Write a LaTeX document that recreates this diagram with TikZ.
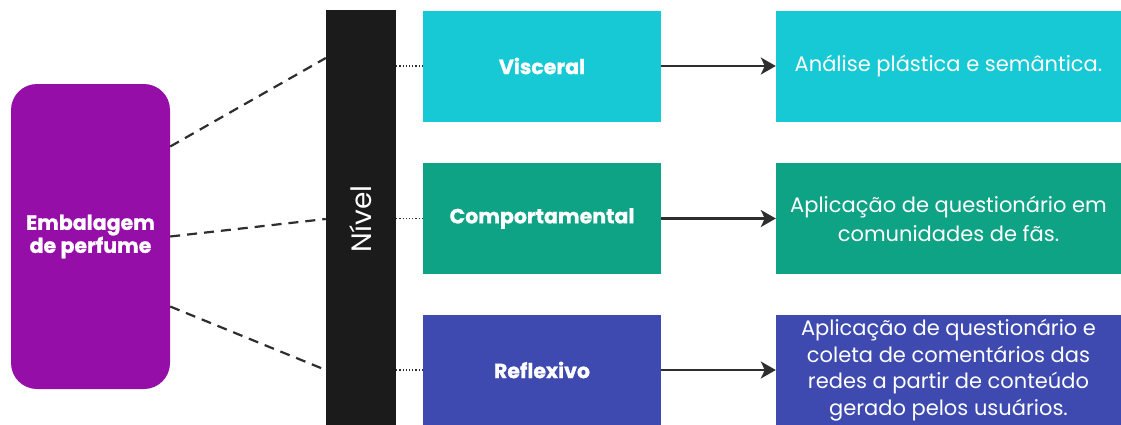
\documentclass[tikz,border=0pt]{standalone}
\usepackage{fontspec}
\setmainfont{Poppins}[BoldFeatures={FakeBold=1}]
\usetikzlibrary{arrows.meta}
\definecolor{cpurple}{HTML}{950EA8}
\definecolor{ccyan}{HTML}{17C9D4}
\definecolor{cgreen}{HTML}{0FA386}
\definecolor{cblue}{HTML}{3E4AAF}
\definecolor{cbar}{HTML}{1B1B1B}
\definecolor{cline}{HTML}{2E2E2E}
\tikzset{
  levelbox/.style={minimum width=238pt, minimum height=111pt, inner sep=0pt, text=white, font=\bfseries\fontsize{20.5}{24}\selectfont},
  descbox/.style={minimum width=345pt, minimum height=111pt, inner sep=0pt, text=white, align=center},
  fan/.style={draw=cline, line width=2.2pt, dash pattern=on 10pt off 7pt},
  dots/.style={draw=cline, line width=1.6pt, dash pattern=on 1.2pt off 2pt},
  flow/.style={draw=cline, line width=2.2pt, -{Stealth[length=15pt,width=17pt,inset=4pt]}}
}
\begin{document}
\begin{tikzpicture}[x=1pt,y=-1pt]
\useasboundingbox[fill=white] (0,0) rectangle (1121,424);
\node[fill=cpurple, rounded corners=26pt, minimum width=159pt, minimum height=305pt, inner sep=0pt,
  text=white, align=center, font=\bfseries\fontsize{20.5}{23}\selectfont] (emb) at (90.5,236.5) {Embalagem\\de perfume};
\node[fill=cbar, minimum width=70pt, minimum height=416pt, inner sep=0pt] (bar) at (361,218) {};
\node[text=white, rotate=90, font=\fontsize{28}{32}\selectfont] (nivel) at (361,219) {Nível};
\node[levelbox, fill=ccyan] (vis) at (542,66) {Visceral};
\node[levelbox, fill=cgreen] (com) at (542,218.5) {Comportamental};
\node[levelbox, fill=cblue] (ref) at (542,370) {Reflexivo};
\node[descbox, fill=ccyan, font=\fontsize{21}{29}\selectfont] (dvis) at (948.5,66) {Análise plástica e semântica.};
\node[descbox, fill=cgreen, font=\fontsize{21}{29}\selectfont] (dcom) at (948.5,218.5) {Aplicação de questionário em\\comunidades de fãs.};
\node[descbox, fill=cblue, font=\fontsize{21}{26.5}\selectfont] (dref) at (948.5,370) {Aplicação de questionário e\\coleta de comentários das\\redes a partir de conteúdo\\gerado pelos usuários.};
\draw[fan] ([yshift=90pt]emb.east) -- ([yshift=160pt]bar.west);
\draw[fan] (emb.east) -- ([yshift=-1pt]bar.west);
\draw[fan] ([yshift=-70pt]emb.east) -- ([yshift=-152pt]bar.west);
\draw[dots] (bar.east |- vis.west) -- (vis.west);
\draw[dots] (bar.east |- com.west) -- (com.west);
\draw[dots] (bar.east |- ref.west) -- (ref.west);
\draw[flow] (vis.east) -- (dvis.west);
\draw[flow] (com.east) -- (dcom.west);
\draw[flow] (ref.east) -- (dref.west);
\end{tikzpicture}
\end{document}
